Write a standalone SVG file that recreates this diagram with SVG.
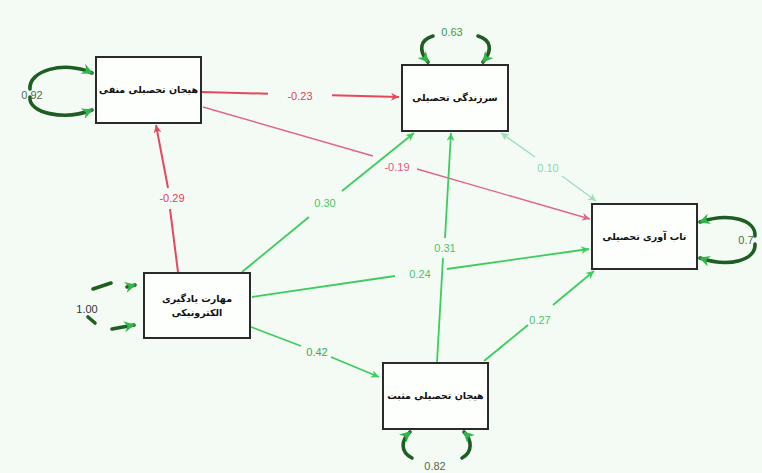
<svg xmlns="http://www.w3.org/2000/svg" width="762" height="473" viewBox="0 0 762 473">
<style>
.bg{fill:#f4fbf5}
.box{fill:#fdfffd;stroke:#2a2a2a;stroke-width:2}
.nt{font-family:"DejaVu Sans",sans-serif;font-size:9.5px;font-weight:bold;fill:#111;text-anchor:middle}
.lb{font-family:"Liberation Sans",Arial,sans-serif;font-size:11px;text-anchor:middle}
.red{stroke:#e6485c;stroke-width:2;fill:none}
.pink{stroke:#e0648a;stroke-width:1.4;fill:none}
.grn{stroke:#3dcc5e;stroke-width:1.8;fill:none}
.lgrn{stroke:#9fdfb6;stroke-width:1.4;fill:none}
.loop{stroke:#1e5e22;stroke-width:3.6;fill:none;stroke-linecap:round}
</style>
<defs>
<marker id="aR" viewBox="0 0 10 10" refX="10" refY="5" markerWidth="10" markerHeight="8" markerUnits="userSpaceOnUse" orient="auto"><path d="M0,0 L10,5 L0,10 L3,5 z" fill="#e6485c"/></marker>
<marker id="aP" viewBox="0 0 10 10" refX="10" refY="5" markerWidth="10" markerHeight="8" markerUnits="userSpaceOnUse" orient="auto"><path d="M0,0 L10,5 L0,10 L3,5 z" fill="#e0648a"/></marker>
<marker id="aG" viewBox="0 0 10 10" refX="10" refY="5" markerWidth="10" markerHeight="8" markerUnits="userSpaceOnUse" orient="auto"><path d="M0,0 L10,5 L0,10 L3,5 z" fill="#3dcc5e"/></marker>
<marker id="aL" viewBox="0 0 10 10" refX="10" refY="5" markerWidth="10" markerHeight="8" markerUnits="userSpaceOnUse" orient="auto-start-reverse"><path d="M0,0 L10,5 L0,10 L3,5 z" fill="#9fdfb6"/></marker>
<marker id="aD" viewBox="0 0 10 10" refX="9" refY="5" markerWidth="12" markerHeight="11" markerUnits="userSpaceOnUse" orient="auto"><path d="M0,0 L10,5 L0,10 L3,5 z" fill="#2fb84a"/></marker>
</defs>
<rect class="bg" x="0" y="0" width="762" height="473"/>

<g id="connectors">
  <g id="e-n1-n2"><path class="red" d="M202,92 L268,93.7 M332,95.3 L399,97" marker-end="url(#aR)"/><text class="lb" x="300" y="100" fill="#e0405a">-0.23</text></g>
  <g id="e-n1-n3"><path class="pink" d="M203,107 L373,156 M417,169 L590,219" marker-end="url(#aP)"/><text class="lb" x="397" y="171" fill="#e05a80">-0.19</text></g>
  <g id="e-n4-n1"><path class="red" d="M178,272 L170,209 M168,188 L156,125" marker-end="url(#aR)"/><text class="lb" x="172" y="202" fill="#e0405a">-0.29</text></g>
  <g id="e-n4-n2"><path class="grn" d="M242,272 L309,217 M342,191 L414,133" marker-end="url(#aG)"/><text class="lb" x="325" y="207" fill="#4cc468">0.30</text></g>
  <g id="e-n4-n3"><path class="grn" d="M252,297 L395,276 M447,269 L589,249" marker-end="url(#aG)"/><text class="lb" x="420" y="278" fill="#4cc468">0.24</text></g>
  <g id="e-n4-n5"><path class="grn" d="M251,327 L301,346 M331,357 L379,377" marker-end="url(#aG)"/><text class="lb" x="317" y="356" fill="#3aaa52">0.42</text></g>
  <g id="e-n5-n2"><path class="grn" d="M437,362 L443,258 M445,238 L451,133" marker-end="url(#aG)"/><text class="lb" x="445" y="252" fill="#4cc468">0.31</text></g>
  <g id="e-n5-n3"><path class="grn" d="M484,361 L528,325 M553,305 L594,271" marker-end="url(#aG)"/><text class="lb" x="540" y="324" fill="#4cc468">0.27</text></g>
  <g id="e-n2-n3"><path class="lgrn" d="M501,133 L535,157 M562,176 L596,201" marker-start="url(#aL)" marker-end="url(#aL)"/><text class="lb" x="548" y="172" fill="#8fd6a6">0.10</text></g>

  <g id="loop-n1"><path class="loop" d="M30,89 C28,71 64,60 92,73" marker-end="url(#aD)"/><path class="loop" d="M30,97 C28,113 64,121 92,110" marker-end="url(#aD)"/><text class="lb" x="32" y="99" fill="#4f6e50">0.92</text></g>
  <g id="loop-n2"><path class="loop" d="M433,36 C420,40 418,50 428,62" marker-end="url(#aD)"/><path class="loop" d="M478,36 C491,40 493,50 483,62" marker-end="url(#aD)"/><text class="lb" x="452" y="36" fill="#3a9a4a">0.63</text></g>
  <g id="loop-n3"><path class="loop" d="M755,236 C756,220 730,212 700,222" marker-end="url(#aD)"/><path class="loop" d="M755,244 C756,260 730,268 700,258" marker-end="url(#aD)"/><text class="lb" x="746" y="244" fill="#4f6e50" text-anchor="start">0.7</text></g>
  <g id="loop-n4"><path class="loop" d="M93,289 L111,283"/><path class="loop" d="M127,287 L135,285" marker-end="url(#aD)"/><path class="loop" d="M88,317 L95,323"/><path class="loop" d="M112,329 L134,325" marker-end="url(#aD)"/><text class="lb" x="87" y="313" fill="#333">1.00</text></g>
  <g id="loop-n5"><path class="loop" d="M412,458 C400,452 401,440 410,432" marker-end="url(#aD)"/><path class="loop" d="M462,458 C473,452 472,440 464,432" marker-end="url(#aD)"/><text class="lb" x="435" y="470" fill="#4f6e50">0.82</text></g>
</g>

<g id="n1"><rect class="box" x="96" y="57" width="105" height="66"/><text class="nt" x="148.5" y="93">هیجان تحصیلی منفی</text></g>
<g id="n2"><rect class="box" x="402" y="65" width="106" height="66"/><text class="nt" x="455" y="101">سرزندگی تحصیلی</text></g>
<g id="n3"><rect class="box" x="592" y="204" width="105" height="65"/><text class="nt" x="644.5" y="240">تاب آوری تحصیلی</text></g>
<g id="n4"><rect class="box" x="144" y="273" width="106" height="65"/><text class="nt" x="197" y="302">مهارت یادگیری</text><text class="nt" x="197" y="316">الکترونیکی</text></g>
<g id="n5"><rect class="box" x="383" y="363" width="105" height="66"/><text class="nt" x="435.5" y="399">هیجان تحصیلی مثبت</text></g>
</svg>
